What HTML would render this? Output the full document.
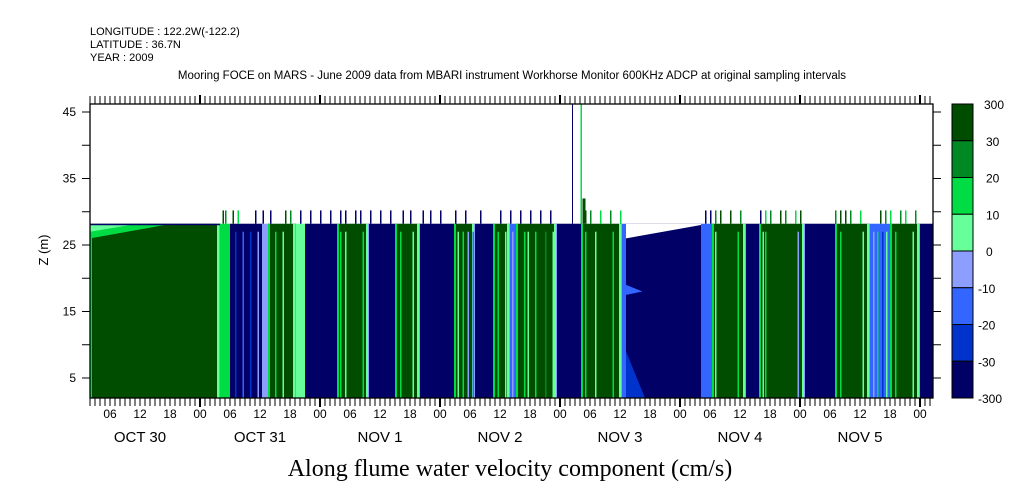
<!DOCTYPE html>
<html><head><meta charset="utf-8">
<style>
body{margin:0;background:#fff;width:1009px;height:504px;overflow:hidden;font-family:"Liberation Sans",sans-serif;}
svg{display:block}
</style></head>
<body>
<svg id="c" width="1009" height="504" xmlns="http://www.w3.org/2000/svg"></svg>
<script>
// ---- data ----
const segStart=[2,28,30,36.4,37.6,43.2,45,51.4,57.8,63,68,74.8,79,82.6,86,87.2,95.4,100.2,108.4,109.2,124.2,126.4,133.2,135.8,145,151,158,162,168];
const segEnd  =[28,30,36.4,37.6,43.2,45,51.4,57.8,63,68,74.8,79,82.6,86,87.2,95.4,100.2,108.4,109.2,124.2,126.4,133.2,135.8,145,151,158,162,168,170.6];
const segLevel=[7,5,0,3,7,4,0,7,0,7,0,7,0,7,2,7,0,7,2,0,2,7,0,7,0,7,2,7,0];
const streakHours=[31,32.5,34,35.5,39,40.5,52,53,56.5,64,66.5,75.5,76.5,77.5,78.5,83.5,85,86.4,88.8,89.5,91,93,94.5,101,103,106.5,127,131.5,136.5,137,143.5,144.5,152,156.5,158.6,159.4,160.4,161.2,163,166.5];
const streakLevel=[1,2,1,3,5,4,5,4,5,5,4,4,5,3,2,5,4,3,5,4,5,6,4,5,4,5,4,5,4,5,3,4,5,4,3,5,1,4,5,4];
const spikeHours=[28.5,29,30.5,31.5,35,36.5,38,41,42,44,46,48,50,52,53,55,56,58,60,62,64.5,66,68.5,70,72,75,77,80,84,86,88,90,92,94,101,102,104,106,108,125,126,127,128,130,132,136,137,138,140,141,143,144,151,152,153,154,156,160,161,162,164,165,167];
const spikeLevel=[7,6,7,5,0,0,0,7,6,0,0,0,0,0,0,0,0,0,0,0,0,0,0,0,0,0,0,0,0,0,0,0,0,0,7,6,5,6,5,0,0,6,7,7,6,0,5,6,7,6,5,7,6,7,7,6,5,7,6,5,6,5,6];
const colors=["#000066","#0033cc","#3366ff","#8c9eff","#66ff99","#00dd44","#008822","#004d00"];
const cbLabels=["300","30","20","10","0","-10","-20","-30","-300"];
const dayLabels=["OCT 30","OCT 31","NOV  1","NOV  2","NOV  3","NOV  4","NOV  5"];
const hourLabels=["06","12","18","00"];
const zTicks=[45,35,25,15,5];
// ---- axes ----
const X0=90,X1=933,Y0=104,Y1=398;
const xs=h=>80+5*h;
const ys=z=>378-(z-5)*266/40;
const NS="http://www.w3.org/2000/svg";
const svg=document.getElementById('c');
function el(t,a,p){const e=document.createElementNS(NS,t);for(const k in a)e.setAttribute(k,a[k]);(p||svg).appendChild(e);return e;}
function txt(s,x,y,a,p){const e=el('text',Object.assign({x:x,y:y,'font-family':'"Liberation Sans",sans-serif','font-size':11,fill:'#000'},a),p);e.textContent=s;return e;}
const g=el('g',{});


const zTop=28.2,zBot=2;
for(let i=0;i<segStart.length;i++){
  const x=xs(segStart[i]),w=xs(segEnd[i])-x;
  const r=el('rect',{x:x,y:ys(zTop),width:w,height:ys(zBot)-ys(zTop),fill:colors[segLevel[i]]},g);
  
  
  if(segLevel[i]==7){
    el('rect',{x:x,y:ys(zTop),width:2,height:ys(zBot)-ys(zTop),fill:colors[5]},g);
    el('rect',{x:x+w-3,y:ys(zTop),width:2,height:ys(zBot)-ys(zTop),fill:colors[4]},g);
    el('rect',{x:x+w-1,y:ys(zTop),width:1,height:ys(zBot)-ys(zTop),fill:colors[3]},g);
  }
}
for(let i=0;i<streakHours.length;i++){
  const s=el('rect',{x:xs(streakHours[i]),y:ys(27),width:1.5,height:ys(zBot)-ys(27),fill:colors[streakLevel[i]]},g);
  
  
}
el('polygon',{points:`${X0},${ys(28)} ${xs(17)},${ys(28)} ${X0},${ys(26)}`,fill:colors[5]},g);
el('polygon',{points:`${X0},${ys(28)} ${xs(10)},${ys(28)} ${X0},${ys(27)}`,fill:colors[4]},g);
el('polygon',{points:`${xs(109.2)},${ys(zTop)} ${xs(124.2)},${ys(zTop)} ${xs(124.2)},${ys(28)} ${xs(109.2)},${ys(26)}`,fill:'#fff'},g);
el('polygon',{points:`${xs(109.2)},${ys(9)} ${xs(113)},${ys(zBot)} ${xs(109.2)},${ys(zBot)}`,fill:colors[1]},g);
el('polygon',{points:`${xs(109.2)},${ys(19)} ${xs(112.5)},${ys(18)} ${xs(109.2)},${ys(17.5)}`,fill:colors[2]},g);
el('rect',{x:X0,y:ys(zTop),width:xs(28)-X0,height:1.5,fill:colors[0]},g);
for(let i=0;i<spikeHours.length;i++){
  const s=el('rect',{x:xs(spikeHours[i]),y:ys(30.2),width:1.5,height:ys(28.2)-ys(30.2),fill:colors[spikeLevel[i]]},g);
  
  
}
el('rect',{x:xs(98.4),y:Y0,width:1,height:ys(zTop)-Y0,fill:colors[0]},g);
el('rect',{x:xs(100.1),y:Y0,width:1.5,height:ys(zTop)-Y0,fill:colors[5]},g);
el('rect',{x:xs(100.5),y:ys(32),width:3,height:ys(zTop)-ys(32),fill:colors[7]},g);
const fr=el('rect',{x:X0,y:Y0,width:X1-X0,height:Y1-Y0,fill:'none',stroke:'#000','stroke-width':1.3});


for(let h=2;h<=170;h++){
  const x=xs(h);if(x>X1)break;
  const L=(h%24==0)?9:8,w=(h%24==0)?2:1;
  el('line',{x1:x,y1:Y0,x2:x,y2:Y0-L,stroke:'#000','stroke-width':w});
  el('line',{x1:x,y1:Y1,x2:x,y2:Y1+L,stroke:'#000','stroke-width':w});
}
for(let h=6;h<=168;h+=6){
  const t=txt(hourLabels[(h/6-1)%4],xs(h),418,{'text-anchor':'middle','font-size':12});
  
  
}
dayLabels.forEach((d,i)=>{const t=txt(d,xs(12+24*i),442,{'text-anchor':'middle','font-size':15,'xml:space':'preserve'});
  });
for(let z=5;z<=45;z+=5){
  const y=ys(z);
  el('line',{x1:X0,y1:y,x2:X0-8,y2:y,stroke:'#000'});
  el('line',{x1:X1,y1:y,x2:X1+8,y2:y,stroke:'#000'});
}
zTicks.forEach(z=>{const t=txt(String(z),76,ys(z)+4,{'text-anchor':'end','font-size':12});
  });
const yt=txt('Z (m)',48,250,{'text-anchor':'middle','font-size':13,transform:'rotate(-90 48 250)'});

const cb=el('g',{});


const cbX=952,cbW=21,bh=(Y1-Y0)/8;
for(let i=0;i<8;i++){
  el('rect',{x:cbX,y:Y0+i*bh,width:cbW,height:bh,fill:colors[7-i],stroke:'#000','stroke-width':1},cb);
}
cbLabels.forEach((s,i)=>{const t=txt(s,i==0?984:(s.length>2&&s[0]=='-'?978:986),Y0+i*bh+5,{'font-size':12},cb);
  });
[['LONGITUDE : 122.2W(-122.2)',35],['LATITUDE : 36.7N',48],['YEAR : 2009',61]].forEach(a=>{
  const t=txt(a[0],90,a[1],{'font-size':11});});
const st=txt('Mooring FOCE on MARS - June 2009 data from MBARI instrument Workhorse Monitor 600KHz ADCP at original sampling intervals',512,79,{'text-anchor':'middle','font-size':11.5});

const tt=txt('Along flume water velocity component (cm/s)',510,476,{'text-anchor':'middle','font-size':24,'font-family':'"Liberation Serif",serif'});

</script>
</body></html>
